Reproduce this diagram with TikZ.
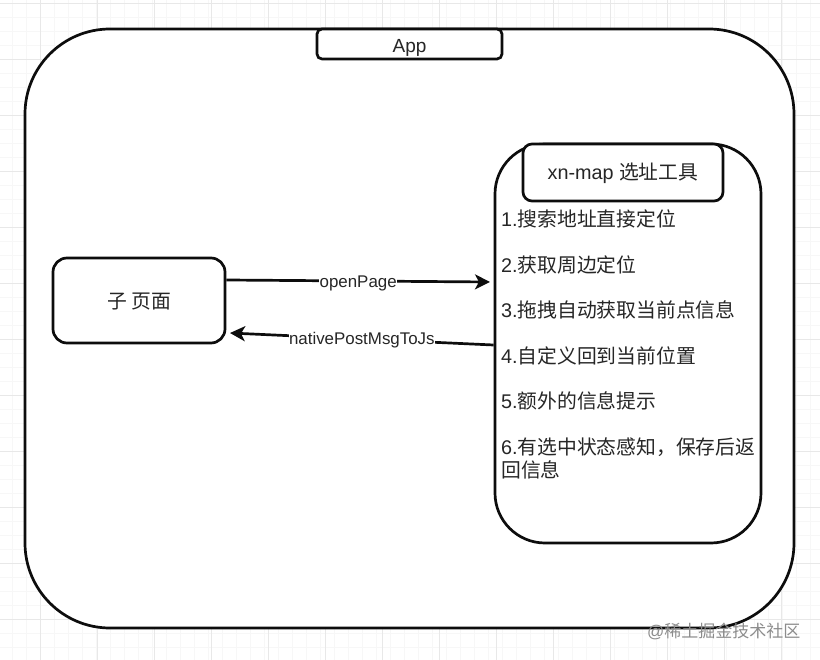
\documentclass[tikz,border=0pt]{standalone}
\usepackage{fontspec}
\setmainfont{Liberation Sans}
\newfontfamily\cjk{Noto Sans CJK SC}
\tikzset{
    box/.style={draw=black!95, line width=2.7pt, fill=white, inner sep=0pt, text=black!85},
    itemtext/.style={anchor=base west, inner sep=0pt, text=black!85, font=\fontsize{19.8}{24}\selectfont},
    msglabel/.style={fill=white, inner sep=0.5pt, text=black!85, font=\fontsize{16.9}{18}\selectfont},
    conn/.style={line width=2.7pt, draw=black!95, -{Stealth[length=15pt,width=15pt,inset=4pt]}},
}
\usetikzlibrary{arrows.meta}
\begin{document}
\begin{tikzpicture}[x=1pt,y=-1pt]
\useasboundingbox (0,0) rectangle (820,660);
\fill[white] (0,0) rectangle (820,660);
\foreach \gx in {12,26,...,820} \draw[black!3, line width=0.8pt] (\gx,0)--(\gx,660);
\foreach \gy in {3,17,...,660} \draw[black!3, line width=0.8pt] (0,\gy)--(820,\gy);
\foreach \gx in {40,97,...,820} \draw[black!9, line width=0.9pt] (\gx,0)--(\gx,660);
\foreach \gy in {3,59,...,660} \draw[black!9, line width=0.9pt] (0,\gy)--(820,\gy);
\node[box, rounded corners=85pt, minimum width=769pt, minimum height=599pt] (app) at (409.5,328.5) {};
\node[box, rounded corners=5pt, minimum width=185pt, minimum height=30pt, font=\fontsize{19}{20}\selectfont] (apptitle) at (409.5,44) {\raisebox{-9pt}[0pt][0pt]{App}};
\node[box, rounded corners=50pt, minimum width=266pt, minimum height=399pt] (tool) at (628,343.5) {};
\node[box, rounded corners=9pt, minimum width=200pt, minimum height=57pt, font=\fontsize{19.8}{20}\selectfont] (tooltitle) at (623,172.5) {\raisebox{-7.5pt}[0pt][0pt]{xn-map {\cjk 选址工具}}};
\node[box, rounded corners=14pt, minimum width=172pt, minimum height=85pt, font=\fontsize{19.8}{20}\selectfont] (subpage) at (139,300.5) {\raisebox{-8.5pt}[0pt][0pt]{\cjk 子 页面}};
\node[itemtext] (item1) at (501,227) {1.{\cjk 搜索地址直接定位}};
\node[itemtext] (item2) at (501,273) {2.{\cjk 获取周边定位}};
\node[itemtext] (item3) at (501,318) {3.{\cjk 拖拽自动获取当前点信息}};
\node[itemtext] (item4) at (501,364) {4.{\cjk 自定义回到当前位置}};
\node[itemtext] (item5) at (501,409) {5.{\cjk 额外的信息提示}};
\node[itemtext] (item6) at (501,455) {6.{\cjk 有选中状态感知，保存后返}};
\node[itemtext] (item7) at (501,478) {\cjk 回信息};
\coordinate (openend) at (490,282);
\coordinate (msgend) at (230,333);
\draw[conn] ([yshift=20.5pt]subpage.east) -- node[msglabel, yshift=-2pt] (openlabel) {openPage} (openend);
\draw[conn] ([yshift=-1.5pt]tool.west) -- node[msglabel, yshift=-1pt] (msglabel) {nativePostMsgToJs} (msgend);
\node[text=black!45, anchor=base west, inner sep=0pt, font=\fontsize{17}{20}\selectfont] (mark) at (647,637) {@{\cjk 稀土掘金技术社区}};
\end{tikzpicture}
\end{document}
